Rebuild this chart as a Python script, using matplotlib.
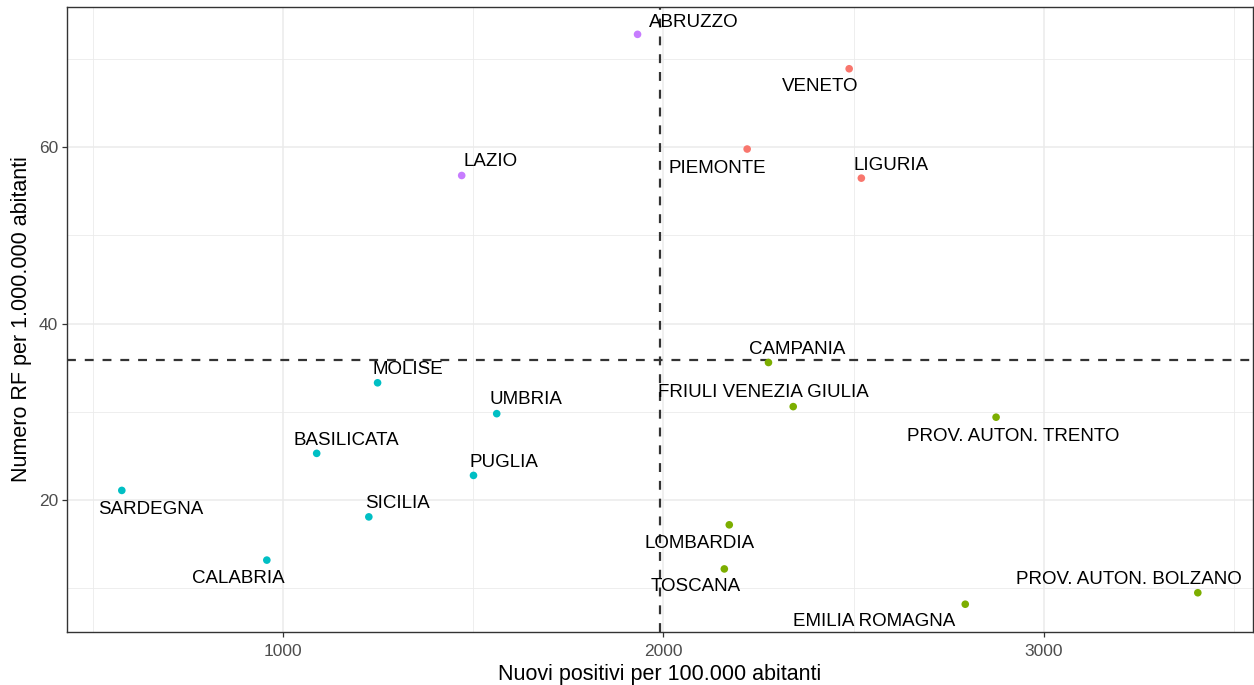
import matplotlib.pyplot as plt
from matplotlib.ticker import MultipleLocator

# --- data -------------------------------------------------------------------
regions = [
    "ABRUZZO", "LAZIO",
    "VENETO", "PIEMONTE", "LIGURIA",
    "CAMPANIA", "FRIULI VENEZIA GIULIA", "PROV. AUTON. TRENTO", "LOMBARDIA",
    "TOSCANA", "EMILIA ROMAGNA", "PROV. AUTON. BOLZANO",
    "MOLISE", "UMBRIA", "BASILICATA", "PUGLIA", "SARDEGNA", "SICILIA", "CALABRIA",
]
positivi = [
    1932, 1470,
    2488, 2220, 2520,
    2276, 2341, 2874, 2173,
    2160, 2793, 3404,
    1249, 1562, 1089, 1501, 577, 1226, 958,
]
rf = [
    72.8, 56.8,
    68.9, 59.8, 56.5,
    35.6, 30.6, 29.4, 17.2,
    12.2, 8.2, 9.5,
    33.3, 29.8, 25.3, 22.8, 21.1, 18.1, 13.2,
]
group = [
    "d", "d",
    "a", "a", "a",
    "b", "b", "b", "b",
    "b", "b", "b",
    "c", "c", "c", "c", "c", "c", "c",
]
mean_positivi = 1991
mean_rf = 35.9

# --- style ------------------------------------------------------------------
GROUP_COLORS = {"a": "#F8766D", "b": "#7CAE00", "c": "#00BFC4", "d": "#C77CFF"}

# label offsets in pixels (dx right, dy down), ggrepel-like placement
LABEL_OFFSETS = {
    "ABRUZZO": (56, -12), "LAZIO": (29, -14), "VENETO": (-29, 18),
    "PIEMONTE": (-30, 19), "LIGURIA": (30, -13), "CAMPANIA": (29, -13),
    "FRIULI VENEZIA GIULIA": (-30, -14), "PROV. AUTON. TRENTO": (17, 19),
    "LOMBARDIA": (-30, 19), "TOSCANA": (-29, 18), "EMILIA ROMAGNA": (-91, 17),
    "PROV. AUTON. BOLZANO": (-69, -13), "MOLISE": (30, -13), "UMBRIA": (29, -14),
    "BASILICATA": (30, -13), "PUGLIA": (30, -13), "SARDEGNA": (29, 19),
    "SICILIA": (29, -13), "CALABRIA": (-29, 18),
}

plt.rcParams["font.family"] = ["Liberation Sans", "DejaVu Sans"]

DPI = 100
fig = plt.figure(figsize=(12.54, 6.85), dpi=DPI)
W, H = 1254, 685
ax = fig.add_axes([67 / W, 1 - 632 / H, (1253 - 67) / W, (632 - 7) / H])

ax.set_xlim(433, 3549)
ax.set_ylim(5.05, 75.9)

ax.xaxis.set_major_locator(MultipleLocator(1000))
ax.xaxis.set_minor_locator(MultipleLocator(500))
ax.yaxis.set_major_locator(MultipleLocator(20))
ax.yaxis.set_minor_locator(MultipleLocator(10))
ax.grid(which="major", color="#EBEBEB", linewidth=1.1)
ax.grid(which="minor", color="#EBEBEB", linewidth=0.6)
ax.set_axisbelow(True)
ax.tick_params(which="minor", length=0)
ax.tick_params(which="major", length=3.5, width=0.9, color="#333333",
               labelsize=12.5, labelcolor="#4D4D4D", pad=3)
ax.tick_params(axis="x", which="major", pad=5)
for sp in ax.spines.values():
    sp.set_color("#333333")
    sp.set_linewidth(1.0)

ax.axvline(mean_positivi, color="#333333", linestyle=(0, (4, 4)), linewidth=1.6, zorder=2)
ax.axhline(mean_rf, color="#333333", linestyle=(0, (4, 4)), linewidth=1.6, zorder=2)

colors = [GROUP_COLORS[g] for g in group]
ax.scatter(positivi, rf, s=30, c=colors, linewidths=0, zorder=3)

px2pt = 72 / DPI
for name, x, y in zip(regions, positivi, rf):
    dx, dy = LABEL_OFFSETS[name]
    ax.annotate(name, (x, y), xytext=(dx * px2pt, -dy * px2pt),
                textcoords="offset points", ha="center", va="center",
                fontsize=13.5, color="black", zorder=4)

ax.set_xlabel("Nuovi positivi per 100.000 abitanti", fontsize=15.5, labelpad=4)
ax.set_ylabel("Numero RF per 1.000.000 abitanti", fontsize=15.5, labelpad=5)

fig.savefig("out.png", dpi=DPI)
